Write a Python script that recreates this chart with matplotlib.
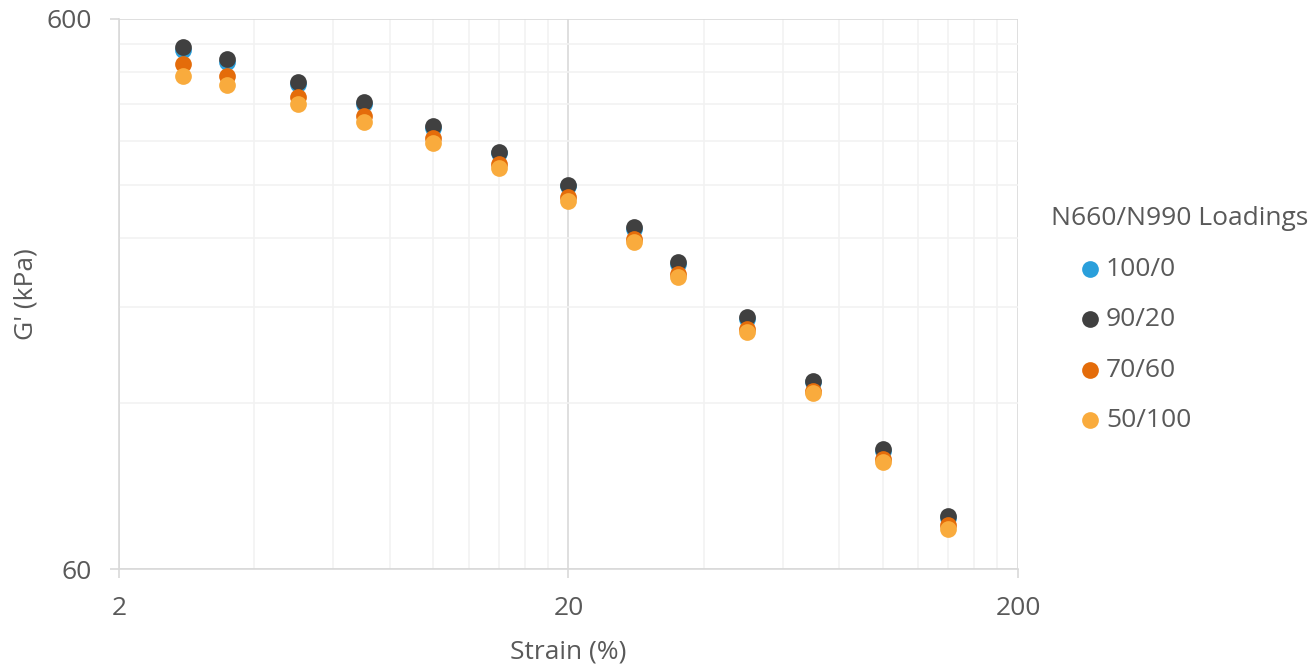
import numpy as np
import matplotlib.pyplot as plt
from matplotlib.ticker import FixedLocator, FixedFormatter, NullFormatter

plt.rcParams['font.family'] = ['Open Sans', 'DejaVu Sans']

# strain sweep, % (shared by all compounds)
strain = [2.78, 3.48, 5, 7, 10, 14, 20, 28, 35, 50, 70, 100, 140]

# storage modulus G', kPa, for each N660/N990 loading
g_100_0 = [527, 501, 457, 420, 380, 342, 298, 249, 215, 171, 131, 98.3, 74.3]
g_90_20 = [534, 507, 461, 423, 384, 344, 300, 251, 217, 172, 132, 99, 75]
g_70_60 = [496, 473, 433, 400, 365, 327, 285, 238.5, 206, 164, 126.6, 95, 72]
g_50_100 = [473, 454.5, 420, 390, 357, 321, 280, 236, 204, 162, 125.5, 94, 71]

labels = ['100/0', '90/20', '70/60', '50/100']
colors = ['#2A9FDB', '#404040', '#E46C0A', '#F9AB3D']

FS = 19
GREY = '#595959'

fig = plt.figure(figsize=(13.15, 6.66), dpi=100)
ax = fig.add_axes([0.0905, 0.1456, 0.6836, 0.8259])

for g, lab, c in zip([g_100_0, g_90_20, g_70_60, g_50_100], labels, colors):
    ax.scatter(strain, g, s=145, color=c, label=lab, zorder=3, linewidths=0)

ax.set_xscale('log')
ax.set_yscale('log')
ax.set_xlim(2, 200)
ax.set_ylim(60, 600)

# Excel-style log axis: labels only at decades, gridlines at every step
ax.xaxis.set_major_locator(FixedLocator([2, 20, 200]))
ax.xaxis.set_minor_locator(FixedLocator(list(range(4, 20, 2)) + list(range(40, 200, 20))))
ax.yaxis.set_major_locator(FixedLocator([60, 600]))
ax.yaxis.set_minor_locator(FixedLocator(list(range(120, 600, 60))))
ax.xaxis.set_major_formatter(FixedFormatter(['2', '20', '200']))
ax.yaxis.set_major_formatter(FixedFormatter(['60', '600']))
ax.xaxis.set_minor_formatter(NullFormatter())
ax.yaxis.set_minor_formatter(NullFormatter())

ax.grid(which='major', color='#D9D9D9', lw=1.2)
ax.grid(which='minor', color='#F2F2F2', lw=1.2)
ax.set_axisbelow(True)

for side in ['top', 'right']:
    ax.spines[side].set_visible(False)
for side in ['left', 'bottom']:
    ax.spines[side].set_color('#D9D9D9')
    ax.spines[side].set_linewidth(1.2)

ax.tick_params(which='major', direction='out', length=6.5, width=1.2,
               color='#D9D9D9', labelsize=FS, labelcolor=GREY, pad=13)
ax.tick_params(which='minor', length=0)

ax.set_xlabel('Strain (%)', fontsize=FS, color=GREY, labelpad=13)
ax.set_ylabel("G' (kPa)", fontsize=FS, color=GREY, labelpad=6)

leg = ax.legend(title='N660/N990 Loadings', loc='upper left',
                bbox_to_anchor=(1051 / 1315, 1 - 206 / 666), bbox_transform=fig.transFigure,
                frameon=False, fontsize=FS, title_fontsize=FS, labelcolor=GREY,
                borderpad=0, borderaxespad=0, handlelength=2.95, handletextpad=-0.87,
                labelspacing=0.97)
leg.get_title().set_color(GREY)
leg._legend_box.align = 'left'

fig.savefig('out.png', dpi=100)
